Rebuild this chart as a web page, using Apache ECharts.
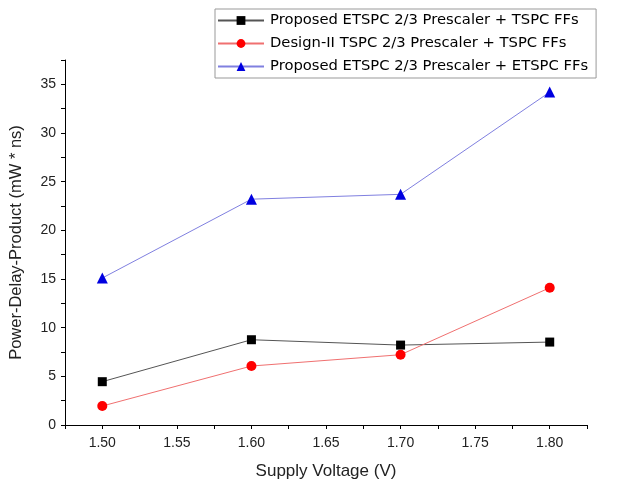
<!DOCTYPE html>
<html><head><meta charset="utf-8">
<script src="https://cdn.jsdelivr.net/npm/echarts@6/dist/echarts.min.js"></script>
<style>html,body{margin:0;padding:0;background:#fff}#c{width:623px;height:483px}</style>
</head><body><div id="c"></div>
<script>
const voltages = [1.50, 1.60, 1.70, 1.80];
const seriesNames = [
  'Proposed ETSPC 2/3 Prescaler + TSPC FFs',
  'Design-II TSPC 2/3 Prescaler + TSPC FFs',
  'Proposed ETSPC 2/3 Prescaler + ETSPC FFs'
];
const etspcTspc = [4.45, 8.76, 8.21, 8.52];
const design2 = [1.95, 6.06, 7.22, 14.1];
const etspcEtspc = [15.1, 23.2, 23.7, 34.2];
const xTickLabels = [1.50, 1.55, 1.60, 1.65, 1.70, 1.75, 1.80];
const yTickLabels = [0, 5, 10, 15, 20, 25, 30, 35];

const xMinor = [1.475,1.525,1.575,1.625,1.675,1.725,1.775,1.825];
const yMinor = [2.5,7.5,12.5,17.5,22.5,27.5,32.5,37.5];

const chart = echarts.init(document.getElementById('c'), null, {renderer:'canvas'});
const font = 'Liberation Sans, Arial, sans-serif';
function mk(name, vals, color, lineColor, symbol, size){
  return {name, type:'line', data: voltages.map((v,i)=>[v, vals[i]]),
    symbol, symbolSize:size, itemStyle:{color},
    lineStyle:{color:lineColor, width:1}, emphasis:{disabled:true}, animation:false, z: 3};
}
chart.setOption({
  animation:false,
  backgroundColor:'#fff',
  grid:{left:65, top:60, right:36, bottom:58, containLabel:false, outerBoundsMode:'none'},
  legend:{
    orient:'vertical', left:215, top:9,
    backgroundColor:'#fff', borderColor:'#999', borderWidth:1,
    padding:[4,8,4,2], itemGap:8, itemWidth:46, itemHeight:11,
    textStyle:{fontFamily:'DejaVu Sans, sans-serif', fontSize:14.75, color:'#000', padding:[0,0,0,1]},
    data: seriesNames
  },
  xAxis:{
    type:'value', min:1.475, max:1.825,
    name:'Supply Voltage (V)', nameLocation:'middle', nameGap:38,
    nameTextStyle:{fontFamily:font, fontSize:17, color:'#222'},
    axisLine:{show:true, onZero:false, lineStyle:{color:'#000', width:1}},
    axisTick:{show:true, customValues: xTickLabels.concat(xMinor), length:4, lineStyle:{color:'#000'}},
    axisLabel:{customValues: xTickLabels, formatter:v=>v.toFixed(2), fontFamily:font, fontSize:14, color:'#222', margin:11},
    splitLine:{show:false}
  },
  yAxis:{
    type:'value', min:0, max:37.5,
    name:'Power-Delay-Product (mW * ns)', nameLocation:'middle', nameGap:40, nameRotate:90,
    nameTextStyle:{fontFamily:font, fontSize:16.5, color:'#222'},
    axisLine:{show:true, onZero:false, lineStyle:{color:'#000', width:1}},
    axisTick:{show:true, customValues: yTickLabels.concat(yMinor), length:4, lineStyle:{color:'#000'}},
    axisLabel:{customValues: yTickLabels, fontFamily:font, fontSize:14, color:'#222', margin:9},
    splitLine:{show:false}
  },
  series:[
    mk(seriesNames[0], etspcTspc, '#000', '#555', 'rect', 9),
    mk(seriesNames[1], design2, '#f00', '#f07070', 'circle', 10),
    mk(seriesNames[2], etspcEtspc, '#0000e0', '#8080e0', 'triangle', 11)
  ]
});
</script></body></html>
